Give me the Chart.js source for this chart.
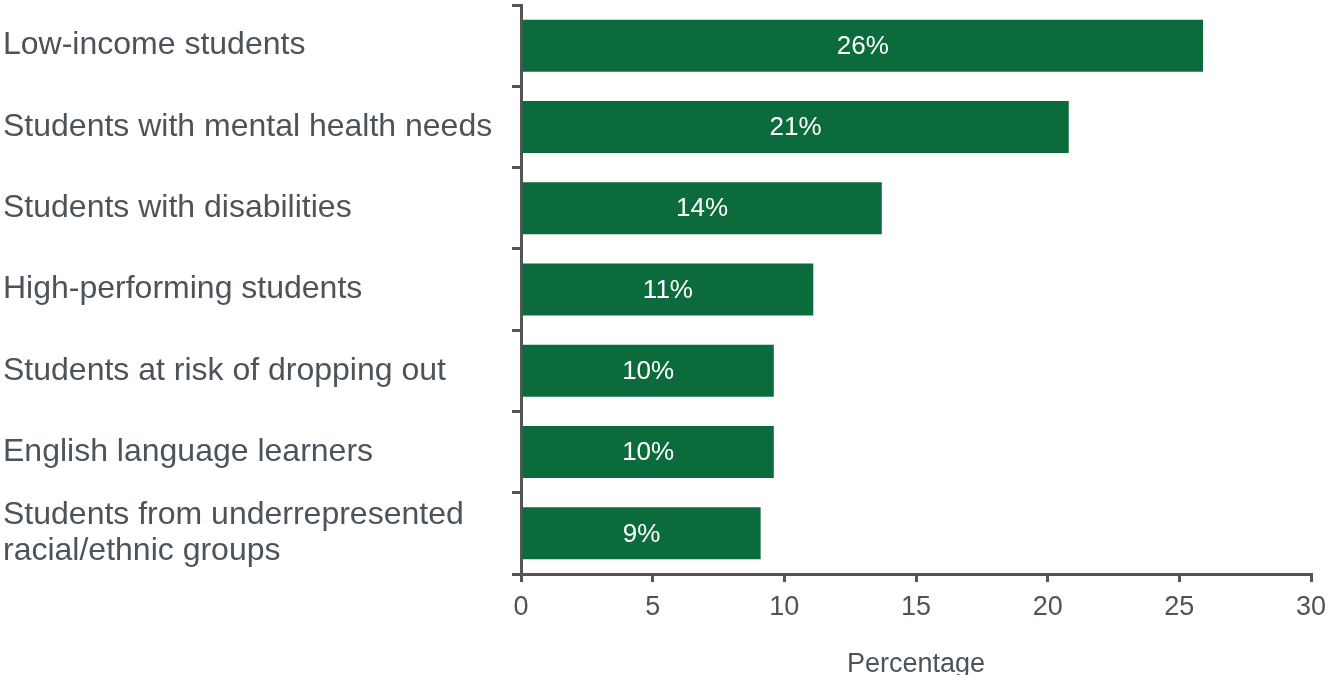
<!DOCTYPE html>
<html>
<head>
<meta charset="utf-8">
<script src="https://cdn.jsdelivr.net/npm/chart.js@4"></script>
<style>
  html, body { margin: 0; padding: 0; background: #ffffff; }
  #wrap { width: 1327px; height: 675px; }
</style>
</head>
<body>
<div id="wrap"><canvas id="chart" width="1327" height="675"></canvas></div>
<script>
// Student groups, top to bottom
const groups = [
    'Low-income students',
    'Students with mental health needs',
    'Students with disabilities',
    'High-performing students',
    'Students at risk of dropping out',
    'English language learners',
    ['Students from underrepresented', 'racial/ethnic groups'],
];
// Share of respondents (%)
const shares = [25.9, 20.8, 13.7, 11.1, 9.6, 9.6, 9.1];
const xTicks = [0, 5, 10, 15, 20, 25, 30];

const fontFamily = '"Liberation Sans", Arial, sans-serif';
const textColor = '#4b535b';
const axisColor = '#555555';
const barColor = '#0b6b3c';

// Writes the rounded percentage in the middle of each bar
const barLabels = {
    id: 'barLabels',
    afterDatasetsDraw(chart) {
        const ctx = chart.ctx;
        const meta = chart.getDatasetMeta(0);
        ctx.save();
        ctx.fillStyle = '#ffffff';
        ctx.font = '26px ' + fontFamily;
        ctx.textAlign = 'center';
        ctx.textBaseline = 'middle';
        meta.data.forEach((bar, i) => {
            const value = chart.data.datasets[0].data[i];
            ctx.fillText(Math.round(value) + '%', (bar.x + bar.base) / 2, bar.y + 1);
        });
        ctx.restore();
    },
};

const ctx = document.getElementById('chart').getContext('2d');

new Chart(ctx, {
    type: 'bar',
    data: {
        labels: groups,
        datasets: [
            {
                data: shares,
                backgroundColor: barColor,
                categoryPercentage: 1,
                barPercentage: 0.64,
            },
        ],
    },
    options: {
        indexAxis: 'y',
        responsive: false,
        animation: false,
        layout: {
            padding: { left: 3, top: 5, right: 16, bottom: 0 },
        },
        plugins: {
            legend: { display: false },
            tooltip: { enabled: false },
        },
        scales: {
            y: {
                afterFit(scale) {
                    scale.width = 518;
                    scale.paddingTop = 0;
                    scale.paddingBottom = 0;
                },
                border: { color: axisColor, width: 3 },
                grid: {
                    offset: true,
                    drawOnChartArea: false,
                    color: axisColor,
                    lineWidth: 3,
                    tickLength: 9,
                },
                ticks: {
                    crossAlign: 'far',
                    color: textColor,
                    font: { family: fontFamily, size: 32, lineHeight: 1.13 },
                },
            },
            x: {
                min: 0,
                max: 30,
                afterFit(scale) {
                    scale.height = 101;
                    scale.paddingLeft = 0;
                    scale.paddingRight = 0;
                },
                afterBuildTicks(scale) {
                    scale.ticks = xTicks.map((v) => ({ value: v }));
                },
                border: { color: axisColor, width: 3 },
                grid: {
                    drawOnChartArea: false,
                    color: axisColor,
                    lineWidth: 3,
                    tickLength: 8,
                },
                ticks: {
                    color: textColor,
                    padding: 9,
                    maxRotation: 0,
                    font: { family: fontFamily, size: 27 },
                },
                title: {
                    display: true,
                    text: 'Percentage',
                    color: textColor,
                    padding: { top: 0, bottom: -3 },
                    font: { family: fontFamily, size: 27, lineHeight: 1 },
                },
            },
        },
    },
    plugins: [barLabels],
});
</script>
</body>
</html>
